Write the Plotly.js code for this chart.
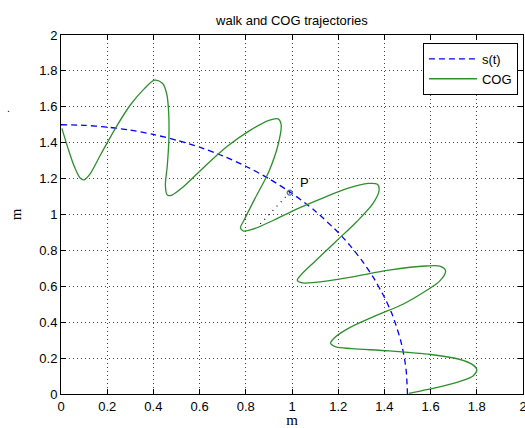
<!DOCTYPE html>
<html>
<head>
<meta charset="utf-8">
<script src="https://cdn.plot.ly/plotly-3.0.1.min.js"></script>
<style>html,body{margin:0;padding:0;background:#fff;}#chart{width:525px;height:428px;}</style>
</head>
<body>
<div id="chart"></div>
<script>
// s(t): dashed reference path
const sX = [0.0, 0.1, 0.2, 0.3, 0.4, 0.5, 0.6, 0.7, 0.8, 0.9, 1.0, 1.1, 1.2, 1.25, 1.3, 1.35, 1.4, 1.43, 1.45, 1.47, 1.48, 1.49, 1.495, 1.5];
const sY = [1.5, 1.497, 1.487, 1.47, 1.446, 1.414, 1.375, 1.327, 1.269, 1.2, 1.118, 1.02, 0.9, 0.829, 0.748, 0.654, 0.539, 0.455, 0.384, 0.3, 0.244, 0.173, 0.122, 0.0];

// COG trajectory
const cogX = [0.004, 0.03, 0.06, 0.085, 0.1, 0.125, 0.17, 0.24, 0.3, 0.36, 0.405, 0.44, 0.458, 0.466, 0.467, 0.46, 0.452, 0.46, 0.48, 0.53, 0.62, 0.72, 0.82, 0.9, 0.94, 0.953, 0.94, 0.9, 0.84, 0.795, 0.777, 0.79, 0.83, 0.92, 1.02, 1.13, 1.24, 1.33, 1.37, 1.377, 1.35, 1.28, 1.19, 1.1, 1.04, 1.023, 1.04, 1.1, 1.25, 1.42, 1.58, 1.64, 1.665, 1.64, 1.58, 1.48, 1.36, 1.25, 1.185, 1.167, 1.19, 1.26, 1.42, 1.6, 1.72, 1.78, 1.8, 1.785, 1.73, 1.64, 1.56, 1.506];
const cogY = [1.48, 1.37, 1.26, 1.2, 1.193, 1.225, 1.33, 1.49, 1.61, 1.70, 1.748, 1.73, 1.67, 1.57, 1.42, 1.27, 1.16, 1.108, 1.108, 1.155, 1.265, 1.38, 1.47, 1.525, 1.533, 1.5, 1.39, 1.24, 1.09, 0.975, 0.925, 0.908, 0.918, 0.968, 1.03, 1.09, 1.145, 1.173, 1.168, 1.135, 1.06, 0.96, 0.85, 0.74, 0.665, 0.635, 0.62, 0.622, 0.65, 0.69, 0.713, 0.712, 0.685, 0.63, 0.575, 0.5, 0.435, 0.37, 0.315, 0.283, 0.262, 0.253, 0.24, 0.22, 0.195, 0.165, 0.135, 0.102, 0.072, 0.04, 0.018, 0.004];

// point P and its link to the COG curve
const pX = [0.99];
const pY = [1.122];
const linkX = [0.99, 0.85];
const linkY = [1.122, 0.93];
const pLabel = "P";

const tickVals = [0, 0.2, 0.4, 0.6, 0.8, 1, 1.2, 1.4, 1.6, 1.8, 2];
const tickText = ["0", "0.2", "0.4", "0.6", "0.8", "1", "1.2", "1.4", "1.6", "1.8", "2"];

const traces = [
  {x: sX, y: sY, type: 'scatter', mode: 'lines', name: 's(t)',
   line: {color: '#0000ff', width: 1.3, dash: '6px,4px', shape: 'spline', smoothing: 0.6}},
  {x: cogX, y: cogY, type: 'scatter', mode: 'lines', name: 'COG',
   line: {color: '#2e8f2e', width: 1.3, shape: 'spline', smoothing: 0.9}},
  {x: linkX, y: linkY, type: 'scatter', mode: 'lines', showlegend: false,
   line: {color: '#000000', width: 1.2, dash: '1px,5px'}},
  {x: pX, y: pY, type: 'scatter', mode: 'markers', showlegend: false,
   marker: {symbol: 'circle-open', size: 5, color: '#4a70a0', line: {width: 1.2, color: '#4a70a0'}}}
];

const axisCommon = {
  range: [0, 2], tickmode: 'array', tickvals: tickVals, ticktext: tickText,
  ticks: 'inside', ticklen: 5, tickcolor: '#000', tickwidth: 1,
  showline: true, linecolor: '#000', linewidth: 1, mirror: 'ticks',
  showgrid: true, gridcolor: '#444', griddash: '1px,3px', gridwidth: 1,
  zeroline: false, fixedrange: true, ticklabeloverflow: 'allow',
  tickfont: {family: 'Liberation Sans, Arial, sans-serif', size: 13, color: '#000'}
};

const layout = {
  width: 525, height: 428,
  margin: {l: 61, r: 2, t: 35, b: 34},
  paper_bgcolor: '#fff', plot_bgcolor: '#fff',
  title: {text: 'walk and COG trajectories', x: 0.556, xanchor: 'center', y: 0.953, yanchor: 'middle',
          font: {family: 'Liberation Sans, Arial, sans-serif', size: 13, color: '#000'}},
  xaxis: Object.assign({}, axisCommon, {
    title: {text: 'm', standoff: 9, font: {family: 'Liberation Serif, Times New Roman, serif', size: 15, color: '#000'}}
  }),
  yaxis: Object.assign({}, axisCommon, {
    title: {text: 'm', standoff: 14, font: {family: 'Liberation Serif, Times New Roman, serif', size: 15, color: '#000'}}
  }),
  showlegend: true,
  legend: {x: 0.989, xanchor: 'right', y: 0.978, yanchor: 'top',
           bgcolor: '#fff', bordercolor: '#000', borderwidth: 1, itemwidth: 48,
           font: {family: 'Liberation Sans, Arial, sans-serif', size: 13, color: '#000'},
           tracegroupgap: 0},
  annotations: [
    {x: 1.055, y: 1.181, xref: 'x', yref: 'y', text: pLabel, showarrow: false,
     font: {family: 'Liberation Sans, Arial, sans-serif', size: 13, color: '#000'}},
    {x: -0.121, y: 0.819, xref: 'paper', yref: 'paper', text: '.', showarrow: false,
     font: {family: 'Liberation Sans, Arial, sans-serif', size: 11, color: '#000'}}
  ]
};

Plotly.newPlot('chart', traces, layout, {displayModeBar: false, staticPlot: true});
</script>
</body>
</html>
